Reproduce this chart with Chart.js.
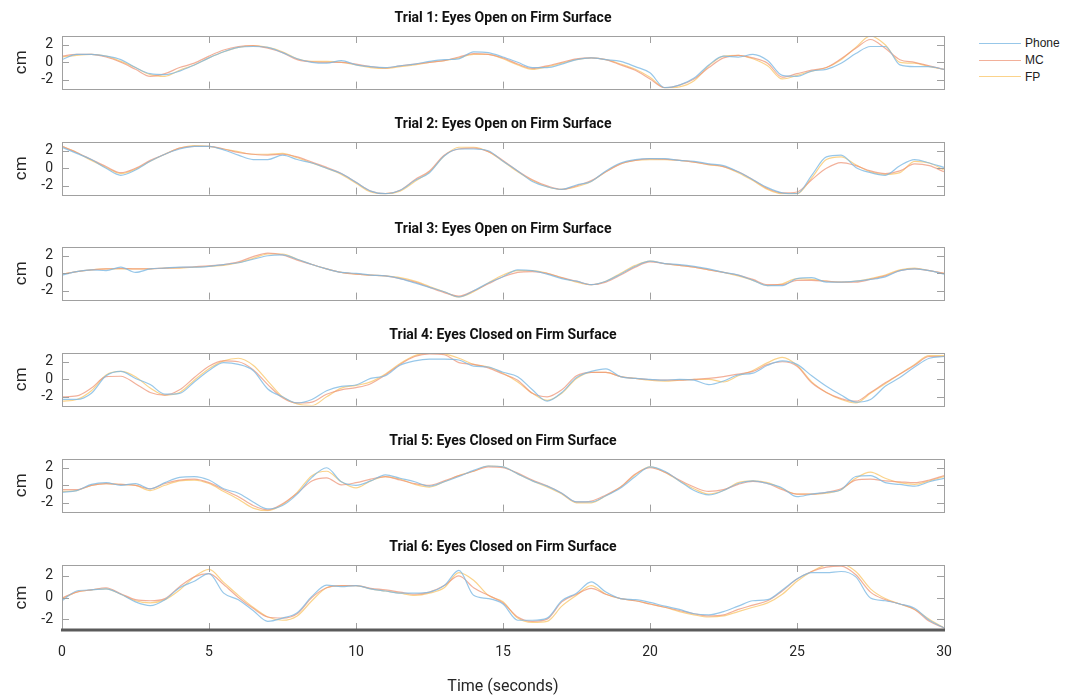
<!DOCTYPE html>
<html>
<head>
<meta charset="utf-8">
<script src="https://cdn.jsdelivr.net/npm/chart.js@4.4.1/dist/chart.umd.min.js"></script>
<style>
  body { margin: 0; background: #fff; }
  #wrap { position: relative; width: 1068px; height: 700px; overflow: hidden; }
  canvas { position: absolute; left: 0; }
  .legend { position: absolute; left: 979px; top: 35px; font: 12px "Liberation Sans", Arial, sans-serif; color: #222; }
  .legend div { height: 16.7px; display: flex; align-items: center; }
  .legend span.l { display: inline-block; width: 42px; height: 0; border-top: 1.5px solid; margin-right: 4px; }
</style>
</head>
<body>
<div id="wrap">
  <div class="legend" id="legend"></div>
</div>
<script>
var time = [0,0.5,1,1.5,2,2.5,3,3.5,4,4.5,5,5.5,6,6.5,7,7.5,8,8.5,9,9.5,10,10.5,11,11.5,12,12.5,13,13.5,14,14.5,15,15.5,16,16.5,17,17.5,18,18.5,19,19.5,20,20.5,21,21.5,22,22.5,23,23.5,24,24.5,25,25.5,26,26.5,27,27.5,28,28.5,29,29.5,30]
var xTicks = [0, 5, 10, 15, 20, 25, 30]
var yTicks = [-2, 0, 2]
var seriesNames = ['Phone', 'MC', 'FP']
var seriesColors = ['rgba(125,185,228,0.8)', 'rgba(238,150,120,0.75)', 'rgba(250,200,110,0.8)']
var titles = [
  'Trial 1: Eyes Open on Firm Surface',
  'Trial 2: Eyes Open on Firm Surface',
  'Trial 3: Eyes Open on Firm Surface',
  'Trial 4: Eyes Closed on Firm Surface',
  'Trial 5: Eyes Closed on Firm Surface',
  'Trial 6: Eyes Closed on Firm Surface'
]

// trial 1
var phone1 = [0.3,0.9,0.9,0.7,0.3,-0.6,-1.3,-1.4,-1.0,-0.3,0.5,1.2, 1.7,1.8,1.7,1.1,0.4,0.0,-0.1,0.2,-0.3,-0.5,-0.6,-0.4, -0.2,0.1,0.3,0.4,1.2,1.1,0.6,0.0,-0.6,-0.6,-0.2,0.3, 0.5,0.3,0.1,-0.5,-1.2,-2.9,-2.6,-1.8,-0.3,0.7,0.6,0.9, 0.2,-1.5,-1.6,-1.0,-0.8,-0.1,1.0,1.8,1.8,-0.3,-0.5,-0.5,-0.8]
var mc1 = [0.7,0.9,0.9,0.6,0.0,-0.8,-1.6,-1.3,-0.6,-0.1,0.7,1.4, 1.8,1.9,1.6,1.1,0.3,0.05,0.0,0.0,-0.2,-0.5,-0.65,-0.4, -0.2,0.0,0.2,0.6,1.0,0.9,0.5,-0.2,-0.7,-0.4,0.0,0.4, 0.5,0.3,-0.3,-0.9,-1.9,-2.9,-2.6,-1.9,-0.6,0.5,0.8,0.5, -0.1,-1.7,-1.3,-0.9,-0.6,0.4,1.6,2.6,1.6,0.3,0.0,-0.4,-0.8]
var fp1 = [0.6,0.8,0.9,0.7,0.1,-0.6,-1.4,-1.6,-0.9,-0.3,0.5,1.2, 1.7,1.9,1.7,1.2,0.4,0.1,0.1,0.0,-0.3,-0.6,-0.7,-0.5, -0.3,0.0,0.2,0.5,0.9,0.9,0.4,-0.3,-0.8,-0.5,-0.1,0.3, 0.5,0.3,-0.2,-0.8,-1.7,-2.9,-2.8,-2.1,-0.4,0.7,0.8,0.4, -0.4,-1.9,-1.5,-1.0,-0.6,0.3,1.7,3.0,2.0,0.0,-0.1,-0.5,-0.8]

// trial 2
var phone2 = [2.4,1.7,1.0,0.0,-0.8,-0.2,0.8,1.6,2.2,2.5,2.5,2.1, 1.5,1.0,1.0,1.5,1.0,0.6,0.0,-0.6,-1.6,-2.6,-2.9,-2.5, -1.4,-0.5,1.4,2.2,2.2,2.0,0.8,-0.3,-1.5,-2.1,-2.4,-1.9, -1.5,-0.3,0.6,1.0,1.1,1.1,0.9,0.8,0.5,0.3,-0.4,-1.3, -2.2,-2.8,-2.9,-0.8,1.3,1.5,0.1,-0.5,-0.8,0.3,1.0,0.6,0.1]
var mc2 = [2.5,1.8,1.0,0.2,-0.5,0.0,0.9,1.6,2.3,2.5,2.5,2.2, 1.8,1.6,1.5,1.6,1.3,0.7,0.1,-0.6,-1.6,-2.6,-2.9,-2.5, -1.3,-0.3,1.5,2.2,2.3,1.9,0.9,-0.3,-1.3,-2.0,-2.4,-2.0, -1.4,-0.4,0.5,0.9,1.1,1.05,0.9,0.7,0.45,0.2,-0.4,-1.3, -2.3,-2.8,-2.7,-1.3,0.0,0.65,0.3,-0.3,-0.6,-0.3,0.5,0.3,-0.4]
var fp2 = [2.5,1.8,0.9,0.1,-0.6,-0.1,0.8,1.6,2.3,2.6,2.5,2.2, 1.9,1.6,1.6,1.7,1.2,0.6,0.0,-0.7,-1.7,-2.7,-2.9,-2.6, -1.5,-0.4,1.4,2.4,2.4,1.9,0.8,-0.4,-1.4,-2.1,-2.4,-2.1, -1.5,-0.4,0.5,0.9,1.0,1.0,0.9,0.7,0.4,0.2,-0.5,-1.4, -2.4,-2.9,-2.9,-1.1,1.0,1.3,0.4,-0.4,-0.7,-0.5,0.8,0.6,-0.2]

// trial 3
var phone3 = [-0.2,0.2,0.4,0.3,0.7,0.1,0.5,0.6,0.7,0.7,0.8,1.0, 1.2,1.6,2.0,2.1,1.6,1.0,0.5,0.1,0.0,-0.2,-0.3,-0.6, -1.1,-1.6,-2.1,-2.7,-2.0,-1.1,-0.4,0.4,0.3,-0.1,-0.6,-0.9, -1.3,-0.9,-0.1,0.8,1.4,1.1,1.0,0.8,0.5,0.1,-0.2,-0.8, -1.4,-1.4,-0.6,-0.5,-1.0,-1.0,-0.9,-0.7,-0.4,0.3,0.5,0.3,-0.1]
var mc3 = [-0.1,0.2,0.4,0.5,0.55,0.5,0.5,0.6,0.65,0.75,0.85,1.0, 1.3,1.9,2.3,2.1,1.5,1.0,0.5,0.1,-0.1,-0.2,-0.3,-0.6, -1.0,-1.6,-2.2,-2.6,-2.0,-1.2,-0.4,0.1,0.2,0.0,-0.5,-0.9, -1.3,-1.0,-0.2,0.7,1.3,1.1,0.9,0.7,0.4,0.1,-0.2,-0.7, -1.3,-1.3,-0.8,-0.8,-0.9,-1.0,-1.0,-0.7,-0.3,0.3,0.5,0.3,0.0]
var fp3 = [-0.1,0.2,0.4,0.5,0.5,0.5,0.5,0.6,0.6,0.7,0.8,0.9, 1.2,1.7,2.2,2.2,1.6,1.0,0.5,0.1,-0.1,-0.2,-0.3,-0.5, -0.9,-1.5,-2.1,-2.7,-2.1,-1.1,-0.2,0.3,0.3,0.0,-0.5,-1.0, -1.3,-0.9,0.0,0.9,1.4,1.1,0.9,0.7,0.4,0.1,-0.3,-0.8, -1.4,-1.2,-0.6,-0.7,-0.9,-1.0,-0.9,-0.6,-0.2,0.4,0.6,0.3,0.0]

// trial 4
var phone4 = [-2.3,-2.3,-1.6,0.4,0.9,0.1,-0.6,-1.7,-1.6,-0.3,1.0,1.9, 1.7,1.0,-1.1,-2.0,-2.7,-2.3,-1.3,-0.8,-0.65,0.1,0.4,1.6, 2.1,2.3,2.3,2.2,1.5,1.4,0.8,0.3,-1.2,-2.5,-1.5,0.2, 0.9,1.2,0.3,0.1,0.0,-0.1,0.0,-0.1,-0.6,-0.2,0.5,0.7, 1.6,2.1,1.7,0.4,-0.8,-1.8,-2.6,-2.3,-0.8,0.2,1.4,2.4,2.6]
var mc4 = [-2.0,-1.9,-1.0,0.3,0.35,-0.5,-1.5,-1.8,-1.2,0.2,1.5,2.1, 2.0,1.1,-0.6,-2.1,-2.7,-2.6,-1.7,-1.2,-0.95,-0.5,0.5,1.7, 2.6,2.9,2.8,1.9,1.7,1.3,0.6,-0.1,-1.6,-2.0,-1.2,0.4, 0.8,0.8,0.3,0.1,-0.05,-0.1,-0.1,0.0,0.1,0.3,0.6,0.9, 1.7,2.0,1.5,-0.4,-1.5,-2.2,-2.5,-1.5,-0.4,0.6,1.6,2.6,2.6]
var fp4 = [-2.5,-2.3,-1.3,0.5,0.9,0.3,-1.0,-1.8,-1.5,-0.1,1.2,2.1, 2.4,1.6,-0.2,-2.0,-2.8,-3.0,-2.0,-1.0,-0.7,-0.3,0.6,1.8, 2.7,3.0,2.9,2.4,1.7,1.4,0.7,-0.3,-1.6,-2.4,-1.6,0.1, 0.8,0.8,0.3,0.1,-0.1,-0.2,-0.1,0.0,0.0,-0.3,0.4,1.0, 1.9,2.5,1.6,-0.3,-1.5,-2.3,-2.7,-1.6,-0.5,0.6,1.7,2.7,2.7]

// trial 5
var phone5 = [-0.8,-0.6,0.1,0.3,0.0,0.2,-0.4,0.3,0.9,1.0,0.6,-0.4, -0.9,-1.9,-2.7,-2.3,-1.0,0.9,2.0,0.4,0.0,0.5,1.2,0.8, 0.4,-0.1,0.4,1.0,1.7,2.2,2.1,1.3,0.5,-0.1,-0.9,-1.9, -1.9,-1.2,-0.3,1.0,2.1,1.6,0.5,-0.6,-1.1,-0.6,0.2,0.5, 0.2,-0.3,-1.3,-1.0,-0.8,-0.5,1.0,1.1,0.3,0.1,-0.1,0.4,0.8]
var mc5 = [-0.5,-0.5,0.0,0.2,0.1,0.0,-0.4,0.2,0.6,0.7,0.3,-0.5, -1.3,-2.3,-2.8,-2.1,-0.9,0.5,0.85,0.05,0.3,0.7,1.0,0.6, 0.2,0.0,0.5,1.1,1.6,2.1,2.0,1.4,0.6,-0.05,-0.9,-1.9, -1.8,-1.1,-0.2,1.3,2.0,1.5,0.6,-0.2,-0.7,-0.5,0.1,0.45, 0.2,-0.5,-1.0,-1.0,-0.8,-0.4,0.6,0.7,0.5,0.4,0.3,0.6,1.1]
var fp5 = [-0.7,-0.6,0.0,0.2,0.1,0.0,-0.6,0.0,0.5,0.6,0.2,-0.7, -1.6,-2.6,-2.9,-2.2,-0.8,1.1,1.6,0.4,-0.3,0.5,1.0,0.7, 0.1,-0.2,0.4,1.1,1.6,2.2,2.1,1.3,0.5,-0.2,-1.0,-2.0, -2.0,-1.2,-0.2,1.2,2.1,1.5,0.5,-0.4,-1.0,-0.6,0.3,0.5, 0.3,-0.4,-1.0,-1.0,-0.9,-0.5,0.8,1.5,0.8,0.3,0.1,0.5,1.0]

// trial 6
var phone6 = [-0.3,0.6,0.7,0.8,0.3,-0.4,-0.75,-0.2,0.9,1.5,2.2,0.4, -0.2,-1.2,-2.2,-1.9,-1.4,0.1,1.15,1.0,1.1,0.8,0.6,0.4, 0.4,0.5,1.1,2.5,0.2,-0.1,-0.6,-2.1,-2.1,-1.9,-0.3,0.4, 1.45,0.5,-0.1,-0.2,-0.45,-0.8,-1.1,-1.5,-1.6,-1.3,-0.8,-0.3, -0.2,0.7,1.7,2.3,2.3,2.4,1.9,-0.05,-0.3,-0.6,-1.0,-2.1,-2.8]
var mc6 = [-0.05,0.5,0.7,0.9,0.35,-0.2,-0.3,-0.1,1.0,1.9,2.2,1.2, 0.0,-1.0,-1.8,-1.9,-1.5,0.0,0.9,1.1,1.1,0.85,0.7,0.5, 0.3,0.5,1.1,2.0,0.9,0.2,-0.5,-1.8,-2.2,-2.0,-0.4,0.3, 0.85,0.3,-0.1,-0.3,-0.6,-0.9,-1.2,-1.5,-1.7,-1.6,-1.1,-0.7, -0.3,0.6,1.7,2.4,2.8,2.9,2.1,0.5,-0.2,-0.6,-1.1,-2.2,-2.8]
var fp6 = [-0.1,0.5,0.7,0.8,0.3,-0.3,-0.5,-0.2,0.7,1.9,2.6,1.4, 0.2,-0.9,-1.8,-2.1,-1.7,-0.3,0.9,1.1,1.1,0.8,0.6,0.4, 0.2,0.4,0.9,2.3,1.6,0.2,-0.4,-1.9,-2.3,-2.2,-0.8,0.2, 1.1,0.3,-0.1,-0.3,-0.6,-0.9,-1.3,-1.6,-1.8,-1.7,-1.3,-0.9, -0.5,0.3,1.5,2.4,3.0,3.1,2.4,0.8,-0.1,-0.6,-1.1,-2.0,-2.8]

var trials = [
  [phone1, mc1, fp1],
  [phone2, mc2, fp2],
  [phone3, mc3, fp3],
  [phone4, mc4, fp4],
  [phone5, mc5, fp5],
  [phone6, mc6, fp6]
]

var boxTops = [36, 142, 247, 353, 459, 565]
var boxH = 65

Chart.defaults.font.family = 'Roboto, "DejaVu Sans", sans-serif'
Chart.defaults.color = '#262626'

// box + inward ticks like the original figure
var boxPlugin = {
  id: 'matlabBox',
  afterDatasetsDraw(chart, args, opts) {
    var a = chart.chartArea, ctx = chart.ctx
    var xs = chart.scales.x, ys = chart.scales.y
    ctx.save()
    ctx.strokeStyle = '#a0a0a0'
    ctx.lineWidth = 1
    ctx.beginPath()
    xTicks.forEach(v => {
      if (v <= xs.min || v >= xs.max) return
      var px = Math.round(xs.getPixelForValue(v)) + 0.5
      ctx.moveTo(px, a.top); ctx.lineTo(px, a.top + 7)
      ctx.moveTo(px, a.bottom); ctx.lineTo(px, a.bottom - 7)
    })
    yTicks.forEach(v => {
      var py = Math.round(ys.getPixelForValue(v)) + 0.5
      ctx.moveTo(a.left, py); ctx.lineTo(a.left + 7, py)
      ctx.moveTo(a.right, py); ctx.lineTo(a.right - 7, py)
    })
    ctx.stroke()
    ctx.strokeRect(Math.round(a.left) + 0.5, Math.round(a.top) + 0.5, Math.round(a.right - a.left), Math.round(a.bottom - a.top))
    if (opts.thickBottom) {
      ctx.strokeStyle = '#5a5a5a'
      ctx.lineWidth = 3
      ctx.beginPath()
      ctx.moveTo(a.left - 1, Math.round(a.bottom))
      ctx.lineTo(a.right + 1, Math.round(a.bottom))
      ctx.stroke()
    }
    ctx.restore()
  }
}

var wrap = document.getElementById('wrap')

trials.forEach((tr, i) => {
  var last = i === trials.length - 1
  var canvas = document.createElement('canvas')
  var h = last ? 700 - (boxTops[i] - 30) : 100
  canvas.width = 1068
  canvas.height = h
  canvas.style.top = (boxTops[i] - 30) + 'px'
  wrap.appendChild(canvas)

  new Chart(canvas.getContext('2d'), {
    type: 'line',
    data: {
      datasets: tr.map((arr, k) => ({
        label: seriesNames[k],
        data: time.map((t, j) => ({ x: t, y: arr[j] })),
        borderColor: seriesColors[k],
        borderWidth: 1.2,
        pointRadius: 0,
        cubicInterpolationMode: 'monotone',
        fill: false
      }))
    },
    options: {
      responsive: false,
      animation: false,
      events: [],
      layout: { padding: { left: 0, right: 124, top: 0, bottom: last ? 0 : 100 - 30 - boxH } },
      plugins: {
        legend: { display: false },
        tooltip: { enabled: false },
        title: {
          display: true,
          text: titles[i],
          fullSize: false,
          color: '#111',
          font: { size: 14, weight: 'bold' },
          padding: { top: 4, bottom: 9.2 }
        },
        matlabBox: { thickBottom: last }
      },
      scales: {
        x: {
          type: 'linear',
          min: 0,
          max: 30,
          display: last,
          afterBuildTicks: s => { s.ticks = xTicks.map(v => ({ value: v })) },
          afterFit: s => { s.height = last ? 70 : 0 },
          grid: { display: false, drawTicks: false },
          border: { display: false },
          ticks: { font: { size: 14 }, padding: 14, maxRotation: 0 },
          title: { display: true, text: 'Time (seconds)', font: { size: 16 }, padding: { top: 0, bottom: 3 } }
        },
        y: {
          type: 'linear',
          min: -3,
          max: 3,
          afterBuildTicks: s => { s.ticks = yTicks.map(v => ({ value: v })) },
          afterFit: s => { s.width = 62 },
          grid: { display: false, drawTicks: false },
          border: { display: false },
          ticks: { font: { size: 14 }, padding: 9 },
          title: { display: true, text: 'cm', font: { size: 17 }, padding: { top: 12, bottom: 0 } }
        }
      }
    },
    plugins: [boxPlugin]
  })
})

// legend
var legend = document.getElementById('legend')
seriesNames.forEach((name, k) => {
  var row = document.createElement('div')
  var line = document.createElement('span')
  line.className = 'l'
  line.style.borderColor = seriesColors[k]
  row.appendChild(line)
  row.appendChild(document.createTextNode(name))
  legend.appendChild(row)
})
</script>
</body>
</html>
